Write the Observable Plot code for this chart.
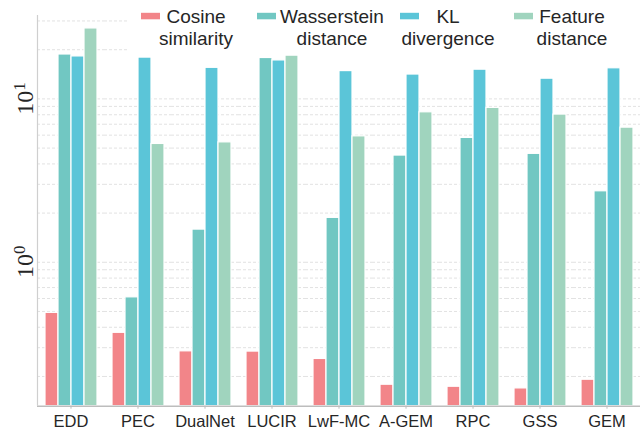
<!DOCTYPE html>
<html>
<head>
<meta charset="utf-8">
<script src="https://cdn.jsdelivr.net/npm/d3@7"></script>
<script src="https://cdn.jsdelivr.net/npm/@observablehq/plot@0.6"></script>
<style>
  html, body { margin: 0; padding: 0; background: #fff; }
  #chart svg { display: block; }
</style>
</head>
<body>
<div id="chart"></div>
<script>
// ---- data ----
const categories = ["EDD", "PEC", "DualNet", "LUCIR", "LwF-MC", "A-GEM", "RPC", "GSS", "GEM"];
const seriesKeys = ["Cosine similarity", "Wasserstein distance", "KL divergence", "Feature distance"];
const seriesLines = [["Cosine", "similarity"], ["Wasserstein", "distance"], ["KL", "divergence"], ["Feature", "distance"]];
const seriesColors = ["#f28589", "#71c7c2", "#5bc5d8", "#a0d4be"];
const cosine      = [0.49, 0.37, 0.285, 0.284, 0.256, 0.178, 0.173, 0.169, 0.191];
const wasserstein = [18.7, 0.61, 1.585, 17.8, 1.87, 4.50, 5.77, 4.61, 2.72];
const kl          = [18.2, 17.9, 15.5, 17.2, 14.8, 14.1, 15.1, 13.3, 15.4];
const feature     = [27.0, 5.30, 5.42, 18.4, 5.90, 8.28, 8.81, 8.02, 6.67];
const yTicks = [1, 10];
const yTickExponents = ["0", "1"];
const yDomain = [0.1315, 32.4];

const seriesValues = [cosine, wasserstein, kl, feature];
const rows = [];
categories.forEach((c, i) => {
  seriesKeys.forEach((s, j) => rows.push({cat: c, series: s, value: seriesValues[j][i]}));
});

const W = 641, H = 430;
const mL = 37, mR = 1, mT = 15, mB = 24.3;

const chart = Plot.plot({
  width: W, height: H,
  marginLeft: mL, marginRight: mR, marginTop: mT, marginBottom: mB,
  style: {fontFamily: "Liberation Sans, Arial, sans-serif", fontSize: "16.5px", color: "#262626", background: "#fff"},
  fx: {domain: categories, padding: 0, label: null, axis: null},
  x: {domain: seriesKeys, paddingInner: 0, paddingOuter: 0.544, axis: null},
  y: {type: "log", domain: yDomain, axis: null},
  color: {domain: seriesKeys, range: seriesColors},
  marks: [
    Plot.gridY(d3.scaleLog().domain(yDomain).ticks(), {stroke: "#e2e2e2", strokeOpacity: 1, strokeWidth: 1, strokeDasharray: "3,2"}),
    Plot.barY(rows, {fx: "cat", x: "series", y1: yDomain[0], y2: "value", fill: "series", stroke: "white", strokeWidth: 1.2}),
    Plot.ruleY([yDomain[0]], {stroke: "#bdbdbd", strokeWidth: 1.5}),
    Plot.axisFx({anchor: "bottom", tickSize: 3, tickPadding: 6, label: null, fontSize: 16.5, stroke: "#bdbdbd"})
  ]
});

document.getElementById("chart").appendChild(chart);

const svg = d3.select(chart);
const yScale = chart.scale("y");

// y tick labels (rotated, with superscript exponent), positioned via the plot's y scale
const yl = svg.append("g").attr("fill", "#262626");
yTicks.forEach((v, i) => {
  const yy = yScale.apply(v);
  const t = yl.append("text")
    .attr("transform", `translate(${mL - 4.5},${yy}) rotate(-90)`)
    .attr("text-anchor", "middle")
    .style("font-family", "'Liberation Serif', 'DejaVu Serif', serif")
    .style("font-size", "24px");
  t.append("tspan").text("10");
  t.append("tspan").attr("dy", "-0.42em").style("font-size", "17px").text(yTickExponents[i]);
});

// left spine
svg.append("line")
  .attr("x1", mL + 0.5).attr("x2", mL + 0.5)
  .attr("y1", mT).attr("y2", H - mB)
  .attr("stroke", "#cfcfcf").attr("stroke-width", 1.2);

// legend (inside axes, top)
const lg = svg.append("g").attr("font-family", "Liberation Sans, Arial, sans-serif").attr("font-size", 19).attr("fill", "#262626");
lg.append("rect").attr("x", 128).attr("y", 0).attr("width", W - 128).attr("height", 53).attr("fill", "#fff");
const swatchX = [141, 257, 400, 514];
const textCx = [196, 332, 448, 572];
seriesKeys.forEach((k, i) => {
  lg.append("rect").attr("x", swatchX[i]).attr("y", 12.8).attr("width", 19).attr("height", 6.5).attr("fill", seriesColors[i]);
  seriesLines[i].forEach((line, j) => {
    lg.append("text").attr("x", textCx[i]).attr("y", 22.7 + j * 22.5).attr("text-anchor", "middle").text(line);
  });
});
</script>
</body>
</html>
